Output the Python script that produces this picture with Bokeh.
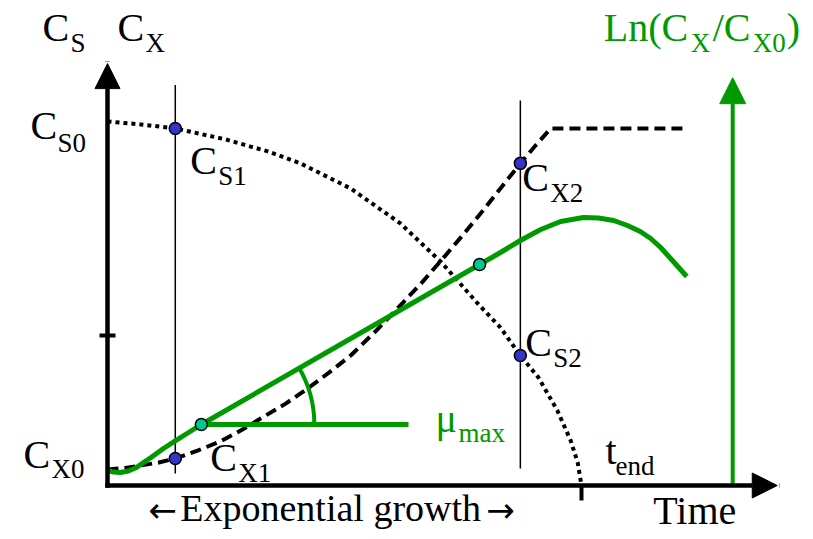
import math

from bokeh.core.properties import value
from bokeh.embed import file_html
from bokeh.models import Arrow, NormalHead, Range1d
from bokeh.plotting import figure
from bokeh.resources import INLINE

# ---- data -------------------------------------------------------------
# time in h; substrate exhausted at t_end
t_end = 10.0
t1, t2 = 1.43, 8.71          # sampling times inside the exponential phase
cs0, cs1, cs2 = 10.0, 9.81, 3.57
cx0, cx1, cx2 = 0.44, 0.74, 8.85

# substrate concentration Cs(t)
sub_t = [0.00, 0.70, 1.43, 1.96, 2.49, 3.02, 3.38, 4.07, 5.13, 6.18, 7.03,
         7.81, 8.29, 8.71, 9.09, 9.49, 9.77, 9.92, 10.00]
sub_c = [10.00, 9.92, 9.81, 9.66, 9.51, 9.31, 9.18, 8.85, 8.16, 7.20, 6.15,
         5.00, 4.34, 3.57, 2.97, 2.06, 1.24, 0.63, 0.00]

# biomass concentration Cx(t)
bio_t = [0.00, 0.38, 0.70, 1.08, 1.43, 1.90, 2.38, 2.81, 3.23, 3.76, 4.22, 4.70,
         5.13, 5.65, 6.18, 6.65, 7.13, 7.49, 7.87, 8.29, 8.71, 9.03, 9.35, 12.15]
bio_c = [0.44, 0.48, 0.55, 0.63, 0.74, 0.96, 1.21, 1.51, 1.84, 2.25, 2.66, 3.13,
         3.57, 4.23, 4.95, 5.60, 6.32, 6.87, 7.47, 8.16, 8.85, 9.34, 9.81, 9.81]

# ln(Cx/Cx0), read on the right-hand axis
ln_t = [0.00, 0.13, 0.27, 0.44, 0.61, 0.76, 0.91, 1.18, 1.43, 1.71, 1.98,
        7.85, 8.29, 8.71, 9.14, 9.56, 10.04, 10.36, 10.68, 10.97, 11.24,
        11.46, 11.67, 11.88, 12.22]
ln_v = [0.00, -0.02, -0.025, -0.006, 0.0375, 0.10, 0.16, 0.275, 0.37, 0.475, 0.575,
        2.575, 2.725, 2.875, 3.0125, 3.1125, 3.1625, 3.156, 3.125, 3.0625, 2.9875,
        2.90, 2.7875, 2.65, 2.425]

# two points on the straight part of ln(Cx/Cx0): slope = mu_max
mu_t = [1.98, 7.85]
mu_v = [0.575, 2.575]
mu_ref_end = 6.35            # end of the horizontal reference line

# axis extents
t_axis_max = 14.13
c_axis_max = 11.59
c_tick = 4.12
ln_axis_t = 13.19
ln_axis_max = 4.91

# ---- layout / style ---------------------------------------------------
W, H = 813, 539
PX_T, PX_C, PX_LN = 47.4, 36.4, 80.0     # pixels per unit on each scale
X0_PX, Y0_PX, LN0_PX = 107, 485, 470     # where the zero of each scale sits

FONT = "Liberation Serif"
GREEN = "#009900"
BLUE = "#3434C8"
TEAL = "#00C890"

p = figure(
    width=W, height=H,
    x_range=Range1d(-X0_PX / PX_T, (W - X0_PX) / PX_T),
    y_range=Range1d(-(H - Y0_PX) / PX_C, Y0_PX / PX_C),
    output_backend="svg", toolbar_location=None,
    x_axis_location=None, y_axis_location=None,
    min_border=0,
)
p.extra_y_ranges = {"ln": Range1d(-(H - LN0_PX) / PX_LN, LN0_PX / PX_LN)}
p.grid.visible = False
p.outline_line_color = None
p.background_fill_color = "white"

# right-hand axis for ln(Cx/Cx0)
p.add_layout(Arrow(
    x_start=ln_axis_t, y_start=-(Y0_PX - LN0_PX) / PX_LN,
    x_end=ln_axis_t, y_end=ln_axis_max, y_range_name="ln",
    line_color=GREEN, line_width=4,
    end=NormalHead(size=26, fill_color=GREEN, line_color=GREEN),
))

# sampling guide lines
p.segment(x0=[t1, t2], y0=[0.33, 0.47], x1=[t1, t2], y1=[11.0, 10.58],
          line_color="black", line_width=1.5)

# substrate (dotted) and biomass (dashed)
p.line(sub_t, sub_c, line_color="black", line_width=4, line_dash="4 4")
p.line(bio_t, bio_c, line_color="black", line_width=4, line_dash="11 6")

# ln(Cx/Cx0)
p.line(ln_t, ln_v, line_color=GREEN, line_width=5, line_join="round",
       y_range_name="ln")
p.segment(x0=[mu_t[0]], y0=[mu_v[0]], x1=[mu_ref_end], y1=[mu_v[0]],
          line_color=GREEN, line_width=5, y_range_name="ln")
slope_px = (mu_v[1] - mu_v[0]) * PX_LN / ((mu_t[1] - mu_t[0]) * PX_T)
p.arc(x=[mu_t[0]], y=[mu_v[0]], radius=113, radius_units="screen",
      start_angle=0, end_angle=math.atan(slope_px),
      line_color=GREEN, line_width=4, y_range_name="ln")

# main axes
for xe, ye in [(0, c_axis_max), (t_axis_max, 0)]:
    p.add_layout(Arrow(
        x_start=0, y_start=0, x_end=xe, y_end=ye,
        line_color="black", line_width=4.5, line_cap="square",
        end=NormalHead(size=25, fill_color="black", line_color="black"),
    ))
p.scatter([0], [c_tick], marker="dash", size=16, line_width=4, line_color="black")
p.segment(x0=[t_end], y0=[0], x1=[t_end], y1=[-15 / PX_C],
          line_color="black", line_width=4)

# sample points
p.scatter([t1, t1, t2, t2], [cs1, cx1, cx2, cs2], size=12,
          fill_color=BLUE, line_color="black", line_width=1.5)
p.scatter(mu_t, mu_v, size=12, fill_color=TEAL, line_color="black",
          line_width=1.5, y_range_name="ln")


def text(x, y, s, dx, dy, size, color="black", yr="default", font=FONT):
    # dy is the wanted baseline offset; shift for how the baseline is placed
    p.text(x=[x], y=[y], text=[s], x_offset=dx, y_offset=dy - 0.37 * size,
           text_font=value(font), text_font_size=f"{size}px", text_color=color,
           text_baseline="alphabetic", y_range_name=yr)


def label(x, y, main, dx, dy, sub=None, sdx=28, sdy=10, color="black",
          yr="default"):
    text(x, y, main, dx, dy, 40, color, yr)
    if sub:
        text(x, y, sub, dx + sdx, dy + sdy, 27, color, yr)


label(0, c_axis_max, "C", -65, -21, "S")
label(0, c_axis_max, "C", 10, -21, "X")
label(0, cs0, "C", -77, 19, "S0", sdx=27, sdy=12)
label(t1, cs1, "C", 15, 47, "S1", sdy=11)
label(0, cx0, "C", -84, 0, "X0")
label(t1, cx1, "C", 35, 14, "X1")
label(t2, cx2, "C", 2, 29, "X2", sdy=11)
label(t2, cs2, "C", 5, 2, "S2")
label(mu_ref_end, mu_v[0], "\u03bc", 27, 9, "max", sdx=23, sdy=9,
      color=GREEN, yr="ln")
label(t_end, 0, "t", 24, -20, "end", sdx=10)
label(t_axis_max, 0, "Time", -124, 40)

# exponential phase caption with arrows on both sides
text(t1, 0, "\u2190", -27, 37, 34, font="DejaVu Sans")
text(t1, 0, "Exponential growth", 5, 37, 38)
text(t1, 0, "\u2192", 311, 37, 34, font="DejaVu Sans")

# ln(Cx/Cx0) axis title
label(ln_axis_t, ln_axis_max, "Ln(C", -129, -35, "X", sdx=87, color=GREEN, yr="ln")
label(ln_axis_t, ln_axis_max, "/C", -20, -35, "X0", sdx=40, color=GREEN, yr="ln")
label(ln_axis_t, ln_axis_max, ")", 54, -35, color=GREEN, yr="ln")

open("out.html", "w").write(file_html(p, INLINE))
